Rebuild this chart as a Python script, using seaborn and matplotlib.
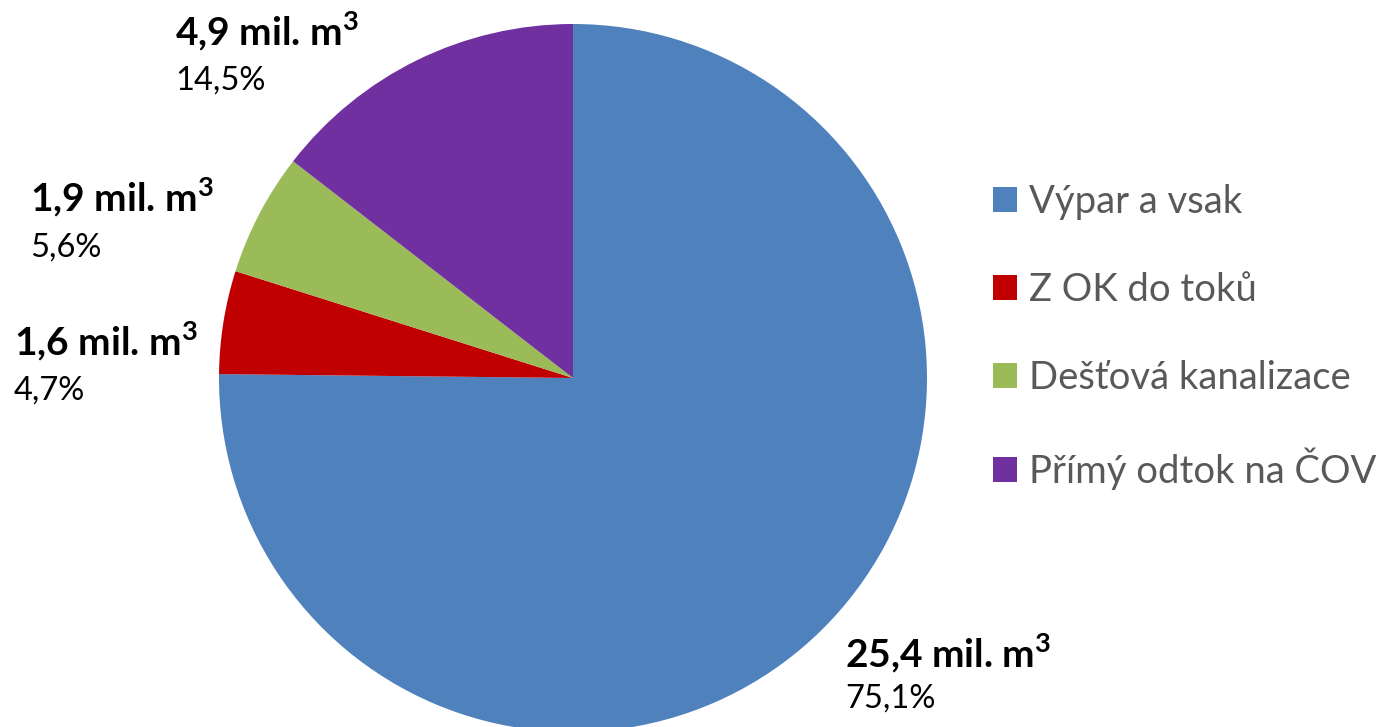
import matplotlib
matplotlib.use("Agg")
import matplotlib.pyplot as plt
import matplotlib.patches as mpatches
import seaborn as sns

categories = ["Výpar a vsak", "Z OK do toků", "Dešťová kanalizace", "Přímý odtok na ČOV"]
volumes = ["25,4", "1,6", "1,9", "4,9"]
percents = ["75,1%", "4,7%", "5,6%", "14,5%"]
shares = [75.1, 4.7, 5.6, 14.5]
colors = ["#4F81BD", "#C00000", "#9BBB59", "#7030A0"]

sns.set_theme(style="white")
plt.rcParams["font.family"] = ["Lato", "DejaVu Sans"]
plt.rcParams["mathtext.fontset"] = "custom"
plt.rcParams["mathtext.rm"] = "Lato"
plt.rcParams["mathtext.bf"] = "Lato:bold"

W, H = 1379, 727
fig = plt.figure(figsize=(W / 100, H / 100), dpi=100)
fig.patch.set_facecolor("white")

cx, cy, r = 573, 378, 354
ax = fig.add_axes([(cx - r) / W, (H - cy - r) / H, 2 * r / W, 2 * r / H])
ax.pie(shares, colors=colors, startangle=90, counterclock=False, radius=1,
       wedgeprops=dict(linewidth=0))
ax.set_xlim(-1, 1)
ax.set_ylim(-1, 1)
ax.set_aspect("equal")
ax.axis("off")

# label anchor positions (pixel coords: x left, bold baseline, percent baseline)
label_pos = [(845, 667, 708), (14, 355, 400), (30, 211, 257), (175, 45, 90)]
for (x, yb, yp), v, pc in zip(label_pos, volumes, percents):
    fig.text(x / W, 1 - yb / H, v + r" mil. m$^{\mathbf{3}}$", fontsize=28, fontweight="bold",
             color="black", ha="left", va="baseline")
    fig.text(x / W, 1 - yp / H, pc, fontsize=23.5, color="black",
             ha="left", va="baseline")

handles = [mpatches.Patch(facecolor=c, edgecolor="none", label=l) for c, l in zip(colors, categories)]
leg = fig.legend(handles=handles, loc="center left",
                 bbox_to_anchor=(993 / W, 1 - 337 / H), frameon=False,
                 fontsize=27.5, labelspacing=1.36, handlelength=0.63, handleheight=0.63,
                 handletextpad=0.3, borderpad=0, borderaxespad=0)
for t in leg.get_texts():
    t.set_color("#595959")

fig.savefig("out.png", dpi=100, facecolor="white")
